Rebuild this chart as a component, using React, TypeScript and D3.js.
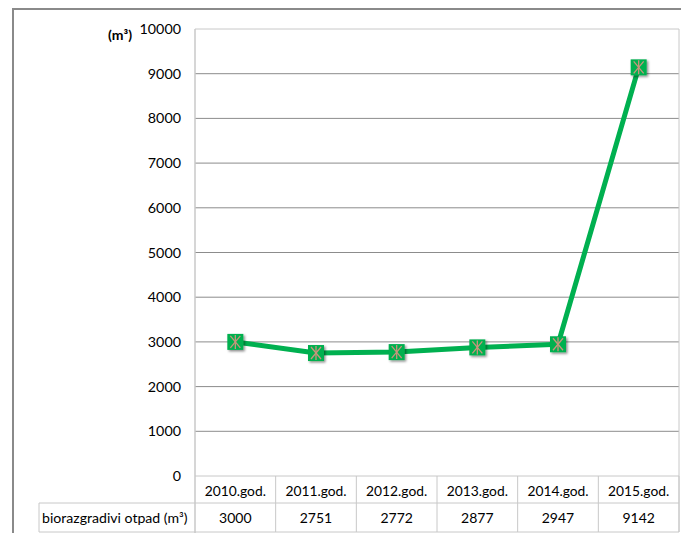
import React from "react";
import * as d3 from "d3";

const years = ["2010.god.", "2011.god.", "2012.god.", "2013.god.", "2014.god.", "2015.god."];
const values = [3000, 2751, 2772, 2877, 2947, 9142];
const yTicks = [0, 1000, 2000, 3000, 4000, 5000, 6000, 7000, 8000, 9000, 10000];
const seriesName = "biorazgradivi otpad (m³)";
const unitLabel = "(m³)";

const font = "Lato, 'Noto Sans', sans-serif";

const App: React.FC = () => {
  const width = 681;
  const height = 533;
  const plot = { left: 195, right: 679, top: 29, bottom: 476 };
  const tableLeft = 39;
  const rowMid = 503;
  const tableBottom = 532;

  const x = d3.scaleBand<string>().domain(years).range([plot.left, plot.right]);
  const y = d3.scaleLinear().domain([0, 10000]).range([plot.bottom, plot.top]);

  const line = d3
    .line<number>()
    .x((_, i) => (x(years[i]) ?? 0) + x.bandwidth() / 2)
    .y((d) => y(d));

  const m = 8; // half marker size

  return (
    <svg
      width={width}
      height={height}
      style={{ position: "absolute", left: 0, top: 0, background: "white" }}
      fontFamily={font}
    >
      <defs>
        <filter id="shadow" x="-50%" y="-50%" width="200%" height="200%">
          <feDropShadow dx="1.5" dy="1.5" stdDeviation="1.2" floodColor="#000" floodOpacity="0.45" />
        </filter>
      </defs>

      {/* outer chart border */}
      <rect x={13} y={9} width={width} height={height} fill="white" stroke="#8a8a8a" strokeWidth={2} />

      {/* gridlines */}
      {yTicks.map((t) => (
        <g key={t}>
          {t > 0 && (
            <line x1={plot.left} x2={plot.right} y1={y(t)} y2={y(t)} stroke={t === 10000 ? "#c8c8c8" : "#8c8c8c"} strokeWidth={1} />
          )}
          <text x={181} y={y(t)} dy="0.35em" textAnchor="end" fontSize={14.3} fill="#000">
            {t}
          </text>
        </g>
      ))}
      <text x={120} y={40} textAnchor="middle" fontSize={14} fontWeight="bold" fill="#000">
        {unitLabel}
      </text>

      {/* plot right edge & left axis */}
      <line x1={plot.right} x2={plot.right} y1={plot.top} y2={tableBottom} stroke="#c8c8c8" />
      <line x1={plot.left} x2={plot.left} y1={plot.top} y2={tableBottom + 1} stroke="#c8c8c8" strokeWidth={1.5} />

      {/* data table */}
      <line x1={plot.left} x2={plot.right} y1={plot.bottom} y2={plot.bottom} stroke="#c8c8c8" />
      <line x1={tableLeft} x2={plot.right} y1={rowMid} y2={rowMid} stroke="#c8c8c8" />
      <line x1={tableLeft} x2={plot.right} y1={tableBottom} y2={tableBottom} stroke="#c8c8c8" />
      <line x1={tableLeft} x2={tableLeft} y1={rowMid} y2={tableBottom} stroke="#c8c8c8" />
      {years.map((yr) => (
        <line
          key={"d" + yr}
          x1={(x(yr) ?? 0) + x.bandwidth()}
          x2={(x(yr) ?? 0) + x.bandwidth()}
          y1={plot.bottom}
          y2={tableBottom}
          stroke="#c8c8c8"
        />
      ))}
      {years.map((yr, i) => (
        <g key={"t" + yr}>
          <text x={(x(yr) ?? 0) + x.bandwidth() / 2} y={491} dy="0.35em" textAnchor="middle" fontSize={13.8}>
            {yr}
          </text>
          <text x={(x(yr) ?? 0) + x.bandwidth() / 2} y={518} dy="0.35em" textAnchor="middle" fontSize={14}>
            {values[i]}
          </text>
        </g>
      ))}
      <text x={42} y={518} dy="0.35em" fontSize={14.1}>
        {seriesName}
      </text>

      {/* series line */}
      <path d={line(values) ?? ""} fill="none" stroke="#00b050" strokeWidth={5} strokeLinejoin="round" />

      {/* markers */}
      {values.map((v, i) => {
        const cx = (x(years[i]) ?? 0) + x.bandwidth() / 2;
        const cy = y(v);
        return (
          <g key={"m" + i} transform={`translate(${cx},${cy})`}>
            <rect x={-m} y={-m} width={2 * m} height={2 * m} fill="#00b050" filter="url(#shadow)" />
            <g stroke="#c8947c" strokeWidth={1.3}>
              <line x1={-5} y1={-6} x2={5} y2={6} />
              <line x1={5} y1={-6} x2={-5} y2={6} />
              <line x1={0} y1={-7} x2={0} y2={7} />
            </g>
          </g>
        );
      })}
    </svg>
  );
};

export default App;
